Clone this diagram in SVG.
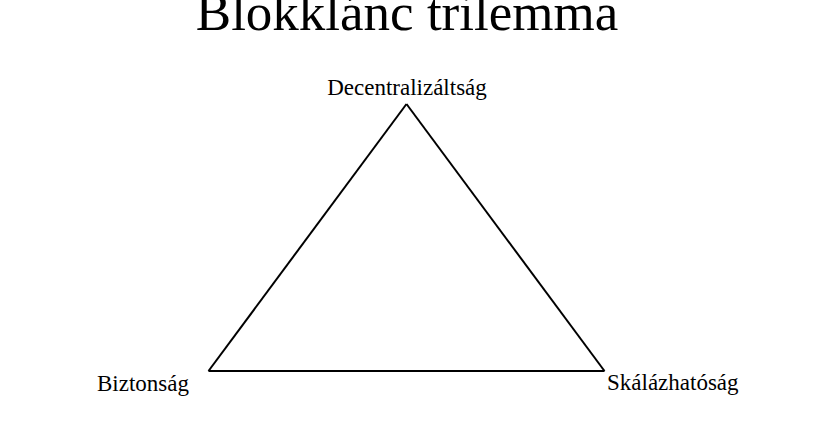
<svg xmlns="http://www.w3.org/2000/svg" width="814" height="444" viewBox="0 0 814 444">
<style>
text { font-family: "Liberation Serif", "Times New Roman", serif; fill: #000; }
.lbl { font-size: 23px; }
.edge { fill: none; stroke: #000; stroke-width: 2; stroke-linejoin: miter; }
</style>
<rect width="814" height="444" fill="#fff"/>
<text x="407" y="30" font-size="53" text-anchor="middle">Blokklánc trilemma</text>
<g id="connectors">
<line class="edge" x1="406.5" y1="104" x2="208.5" y2="371"/>
<line class="edge" x1="208.5" y1="371" x2="604.5" y2="371"/>
<line class="edge" x1="604.5" y1="371" x2="406.5" y2="104"/>
</g>
<g id="node-decentralizaltsag">
<text class="lbl" x="407" y="95" text-anchor="middle">Decentralizáltság</text>
</g>
<g id="node-biztonsag">
<text class="lbl" x="97" y="391" text-anchor="start">Biztonság</text>
</g>
<g id="node-skalazhatosag">
<text class="lbl" x="607" y="390" text-anchor="start">Skálázhatóság</text>
</g>
</svg>
